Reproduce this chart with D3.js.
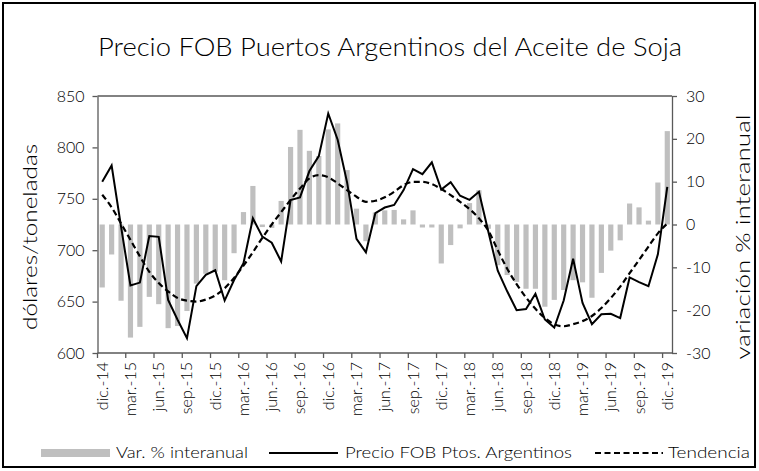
<!DOCTYPE html>
<html>
<head>
<meta charset="utf-8">
<script src="https://cdn.jsdelivr.net/npm/d3@7"></script>
<style>
  body { margin: 0; background: #fff; }
  text { font-family: Lato, "Open Sans", sans-serif; font-weight: 300; fill: #000; }
</style>
</head>
<body>
<svg id="chart" width="759" height="471"></svg>
<script>
// Monthly categories, Dec-2014 to Dec-2019
const months = [
  "dic.-14",
  "ene.-15","feb.-15","mar.-15","abr.-15","may.-15","jun.-15","jul.-15","ago.-15","sep.-15","oct.-15","nov.-15","dic.-15",
  "ene.-16","feb.-16","mar.-16","abr.-16","may.-16","jun.-16","jul.-16","ago.-16","sep.-16","oct.-16","nov.-16","dic.-16",
  "ene.-17","feb.-17","mar.-17","abr.-17","may.-17","jun.-17","jul.-17","ago.-17","sep.-17","oct.-17","nov.-17","dic.-17",
  "ene.-18","feb.-18","mar.-18","abr.-18","may.-18","jun.-18","jul.-18","ago.-18","sep.-18","oct.-18","nov.-18","dic.-18",
  "ene.-19","feb.-19","mar.-19","abr.-19","may.-19","jun.-19","jul.-19","ago.-19","sep.-19","oct.-19","nov.-19","dic.-19"
];

// Quarterly labels shown on the category axis
const tickLabels = [
  "dic.-14","mar.-15","jun.-15","sep.-15","dic.-15","mar.-16","jun.-16","sep.-16","dic.-16","mar.-17","jun.-17",
  "sep.-17","dic.-17","mar.-18","jun.-18","sep.-18","dic.-18","mar.-19","jun.-19","sep.-19","dic.-19"
];

// Year-on-year change, % (right axis)
const variacion = [
  -14.7, -7.0, -17.8, -26.4, -23.9, -16.9, -18.6, -24.2, -23.7, -20.2, -13.8, -11.5, -11.0,
  -13.0, -6.7, 2.9, 9.0, -0.6, -0.8, 5.5, 18.1, 22.1, 17.2, 16.0, 22.2,
  23.6, 12.7, 3.7, -3.9, 2.8, 3.3, 3.4, 1.2, 3.3, -0.7, -0.7, -9.1,
  -4.8, -0.9, 5.0, 8.0, -1.0, -9.5, -11.8, -13.4, -15.0, -15.0, -19.2, -17.6,
  -15.3, -13.0, -13.5, -17.1, -11.3, -6.1, -3.7, 4.9, 4.0, 0.9, 9.8, 21.8
];

// FOB price, USD per tonne (left axis)
const precio = [
  766.5, 782.4, 723, 665.6, 668.5, 713.8, 713, 651.7, 632.3, 614.5, 665, 676, 680.5,
  651, 671, 687.3, 731, 713.2, 707.3, 689, 748.8, 751.4, 777, 791.5, 833,
  807.5, 766, 711, 698, 736, 741.5, 744, 758.5, 778.8, 774, 785.5, 759,
  766.2, 753, 749, 756.8, 718, 680, 660, 641.7, 642.7, 657.6, 632.6, 624.7,
  651, 691.7, 648.8, 628.1, 637.6, 638.2, 634, 673.5, 669, 665, 696, 761.7
];

// Trend of the FOB price, USD per tonne (left axis)
const tendencia = [
  754, 741.7, 726, 710, 694, 679, 668, 660, 653.5, 651, 650, 652, 656,
  663, 673, 685, 698, 712, 725, 737, 749, 760, 769.8, 773, 771,
  765, 758.5, 752, 747.1, 748.1, 751.4, 756.8, 763.3, 766.5, 766.5, 764.3, 759.5,
  753.6, 747.1, 740, 731, 719, 700, 682, 667, 654, 643, 634, 628,
  626, 628, 631, 636, 643.7, 653.4, 664.6, 677.6, 690.5, 703.5, 716.4, 726
];

const leftTicks = [600, 650, 700, 750, 800, 850];
const rightTicks = [-30, -20, -10, 0, 10, 20, 30];

const svg = d3.select("#chart");
const axisColor = "#595959";

const plot = { left: 97.5, right: 672, top: 96, bottom: 353 };

const x = d3.scaleBand().domain(months).range([plot.left, plot.right]).padding(0);
const yL = d3.scaleLinear().domain([600, 850]).range([plot.bottom, plot.top]);
const yR = d3.scaleLinear().domain([-30, 30]).range([plot.bottom, plot.top]);
const cx = m => x(m) + x.bandwidth() / 2;

// Outer chart border
svg.append("rect")
  .attr("x", 3).attr("y", 3).attr("width", 752).attr("height", 464)
  .attr("fill", "none").attr("stroke", "#000").attr("stroke-width", 2);

// Title
svg.append("text")
  .attr("x", 390).attr("y", 56)
  .attr("text-anchor", "middle")
  .attr("font-size", 25)
  .attr("textLength", 584).attr("lengthAdjust", "spacingAndGlyphs")
  .text("Precio FOB Puertos Argentinos del Aceite de Soja");

// Bars: year-on-year change
const barW = x.bandwidth() * 0.55;
svg.append("g").selectAll("rect")
  .data(months.map((m, i) => ({ m, v: variacion[i] })))
  .join("rect")
  .attr("x", d => cx(d.m) - barW / 2)
  .attr("width", barW)
  .attr("y", d => yR(Math.max(0, d.v)))
  .attr("height", d => Math.abs(yR(d.v) - yR(0)))
  .attr("fill", "#bfbfbf");

// Trend (dashed)
const lineTrend = d3.line().x((d, i) => cx(months[i])).y(d => yL(d)).curve(d3.curveMonotoneX);
svg.append("path")
  .datum(tendencia)
  .attr("d", lineTrend)
  .attr("fill", "none").attr("stroke", "#000")
  .attr("stroke-width", 2.2).attr("stroke-dasharray", "6,3.5");

// Price line
const linePrice = d3.line().x((d, i) => cx(months[i])).y(d => yL(d));
svg.append("path")
  .datum(precio)
  .attr("d", linePrice)
  .attr("fill", "none").attr("stroke", "#000")
  .attr("stroke-width", 2).attr("stroke-linejoin", "miter");

// Plot frame: top edge
svg.append("line")
  .attr("x1", plot.left).attr("x2", plot.right)
  .attr("y1", plot.top).attr("y2", plot.top)
  .attr("stroke", axisColor).attr("stroke-width", 1.3);

// Left axis
const gL = svg.append("g").attr("transform", `translate(${plot.left},0)`)
  .call(d3.axisLeft(yL).tickValues(leftTicks).tickSize(5).tickSizeOuter(0).tickPadding(8));
// Right axis
const gR = svg.append("g").attr("transform", `translate(${plot.right},0)`)
  .call(d3.axisRight(yR).tickValues(rightTicks).tickSize(5).tickSizeOuter(0).tickPadding(9)
    .tickFormat(d => d < 0 ? "-" + Math.abs(d) : String(d)));
[gL, gR].forEach(g => {
  g.select(".domain").attr("stroke", axisColor).attr("stroke-width", 1.3);
  g.selectAll(".tick line").attr("stroke", axisColor).attr("stroke-width", 1.3);
  g.selectAll(".tick text").attr("font-size", 16).attr("font-family", "Lato, 'Open Sans', sans-serif")
    .attr("font-weight", 300).attr("fill", "#000");
});

// Category axis: baseline, quarterly ticks on category boundaries, rotated labels
const gX = svg.append("g");
gX.append("line")
  .attr("x1", plot.left).attr("x2", plot.right)
  .attr("y1", plot.bottom).attr("y2", plot.bottom)
  .attr("stroke", axisColor).attr("stroke-width", 1.3);
const tickMonths = months.filter((m, i) => i % 3 === 0);
gX.selectAll("line.tk")
  .data(tickMonths)
  .join("line").attr("class", "tk")
  .attr("x1", d => x(d)).attr("x2", d => x(d))
  .attr("y1", plot.bottom).attr("y2", plot.bottom + 5)
  .attr("stroke", axisColor).attr("stroke-width", 1.3);
gX.selectAll("text")
  .data(tickMonths)
  .join("text")
  .attr("transform", (d, i) => `translate(${cx(d) + 5.5},${plot.bottom + 9}) rotate(-90)`)
  .attr("text-anchor", "end")
  .attr("font-size", 16)
  .attr("font-weight", 400)
  .text((d, i) => tickLabels[i]);

// Axis titles
svg.append("text")
  .attr("transform", `translate(37,237) rotate(-90)`)
  .attr("text-anchor", "middle")
  .attr("font-size", 19)
  .attr("textLength", 186).attr("lengthAdjust", "spacingAndGlyphs")
  .text("dólares/toneladas");
svg.append("text")
  .attr("transform", `translate(750,237) rotate(-90)`)
  .attr("text-anchor", "middle")
  .attr("font-size", 19)
  .attr("textLength", 245).attr("lengthAdjust", "spacingAndGlyphs")
  .text("variación % interanual");

// Legend
const lg = svg.append("g");
lg.append("rect").attr("x", 41).attr("y", 449).attr("width", 69).attr("height", 8).attr("fill", "#bfbfbf");
lg.append("text").attr("x", 116).attr("y", 458).attr("font-size", 16)
  .attr("textLength", 132).attr("lengthAdjust", "spacingAndGlyphs").text("Var. % interanual");
lg.append("line").attr("x1", 269).attr("x2", 338).attr("y1", 453).attr("y2", 453)
  .attr("stroke", "#000").attr("stroke-width", 2);
lg.append("text").attr("x", 345).attr("y", 458).attr("font-size", 16)
  .attr("textLength", 227).attr("lengthAdjust", "spacingAndGlyphs").text("Precio FOB Ptos. Argentinos");
lg.append("line").attr("x1", 595).attr("x2", 663).attr("y1", 453).attr("y2", 453)
  .attr("stroke", "#000").attr("stroke-width", 2.2).attr("stroke-dasharray", "6,3.5");
lg.append("text").attr("x", 668).attr("y", 458).attr("font-size", 16)
  .attr("textLength", 82).attr("lengthAdjust", "spacingAndGlyphs").text("Tendencia");
</script>
</body>
</html>
